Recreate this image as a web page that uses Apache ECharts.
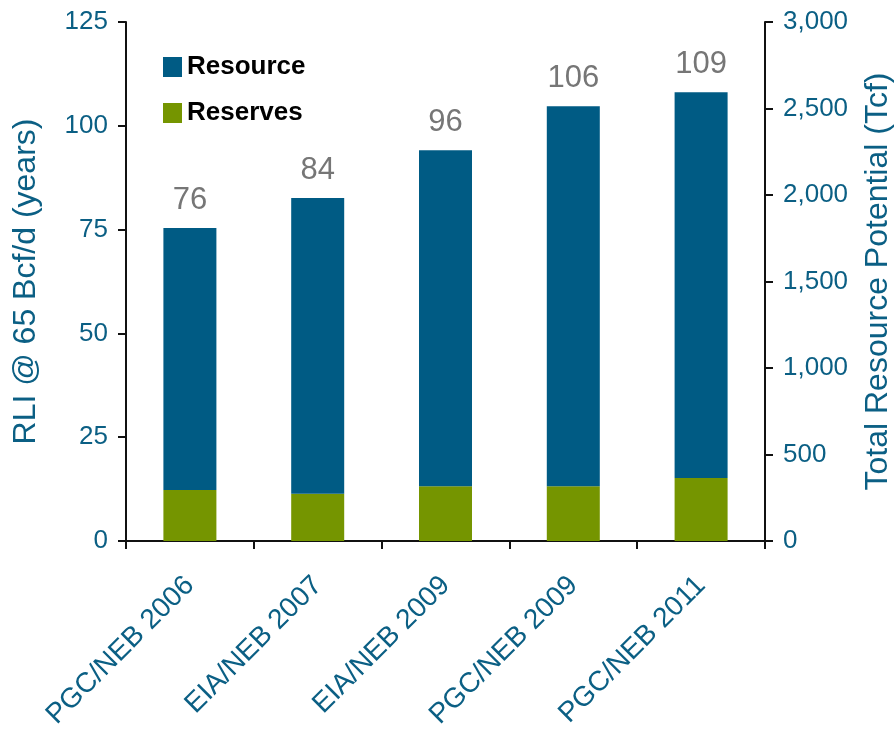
<!DOCTYPE html>
<html>
    <head>
        <meta charset="utf-8">
        <title>RLI chart</title>
        <script src="https://cdn.jsdelivr.net/npm/echarts@6/dist/echarts.min.js"></script>
    </head>
    <body style="margin:0">
        <div id="container" style="width:894px;height:733px"></div>
    </body>
    <script>
        var categories = ['PGC/NEB 2006', 'EIA/NEB 2007', 'EIA/NEB 2009', 'PGC/NEB 2009', 'PGC/NEB 2011'];
        // years
        var reserves = [12.3, 11.4, 13.2, 13.2, 15.2];
        var resource = [63.1, 71.2, 80.9, 91.5, 92.9];
        var totalLabels = ['76', '84', '96', '106', '109'];

        var blue = '#005b84';
        var green = '#759500';
        var teal = '#0b5f84';
        var font = 'Liberation Sans, Arial, sans-serif';

        var myChart = echarts.init(document.getElementById('container'));

        var axisLine = {show: true, lineStyle: {color: '#111', width: 2}};
        var axisTick = {show: true, length: 8, lineStyle: {color: '#111', width: 2}};

        var option = {
            animation: false,
            textStyle: {fontFamily: font},
            grid: {
                left: 126,
                right: 129,
                top: 22,
                bottom: 192,
                containLabel: false,
                outerBoundsMode: 'none'
            },
            legend: {
                data: ['Resource', 'Reserves'],
                orient: 'vertical',
                left: 158,
                top: 49,
                itemWidth: 19,
                itemHeight: 20,
                itemGap: 20,
                itemTextGap: 9,
                icon: 'rect',
                textStyle: {
                    fontFamily: font,
                    fontSize: 26,
                    fontWeight: 'bold',
                    color: '#000',
                    lineHeight: 24
                }
            },
            xAxis: {
                type: 'category',
                data: categories,
                axisLine: axisLine,
                axisTick: axisTick,
                axisLabel: {
                    rotate: 45,
                    margin: 40,
                    fontSize: 28,
                    color: teal,
                    fontFamily: font
                }
            },
            yAxis: [{
                type: 'value',
                min: 0,
                max: 125,
                interval: 25,
                name: 'RLI @ 65 Bcf/d (years)',
                nameLocation: 'middle',
                nameRotate: 90,
                nameGap: 84,
                nameTextStyle: {fontSize: 32, color: teal, fontFamily: font},
                axisLine: axisLine,
                axisTick: axisTick,
                splitLine: {show: false},
                axisLabel: {fontSize: 26, color: teal, margin: 18, fontFamily: font}
            }, {
                type: 'value',
                position: 'right',
                min: 0,
                max: 3000,
                interval: 500,
                name: 'Total Resource Potential (Tcf)',
                nameLocation: 'middle',
                nameRotate: 90,
                nameGap: 97,
                nameTextStyle: {fontSize: 32, color: teal, fontFamily: font},
                axisLine: axisLine,
                axisTick: axisTick,
                splitLine: {show: false},
                axisLabel: {
                    fontSize: 26,
                    color: teal,
                    margin: 18,
                    fontFamily: font,
                    formatter: function (v) {
                        return v.toLocaleString('en-US');
                    }
                }
            }],
            series: [{
                name: 'Reserves',
                type: 'bar',
                stack: 'total',
                barWidth: 53,
                itemStyle: {color: green},
                data: reserves
            }, {
                name: 'Resource',
                type: 'bar',
                stack: 'total',
                barWidth: 53,
                itemStyle: {color: blue},
                label: {
                    show: true,
                    position: 'top',
                    distance: 12,
                    fontSize: 31,
                    color: '#767676',
                    fontFamily: font,
                    formatter: function (p) {
                        return totalLabels[p.dataIndex];
                    }
                },
                data: resource
            }]
        };

        myChart.setOption(option);
    </script>
</html>
